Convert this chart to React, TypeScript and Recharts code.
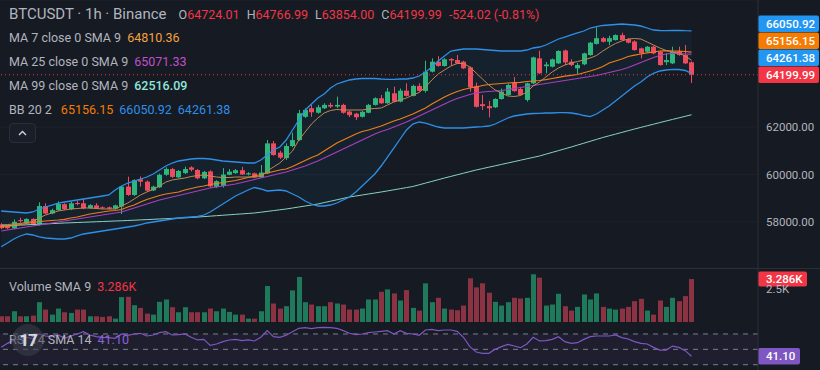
import React from 'react';
import {
  ComposedChart,
  Bar,
  Line,
  Area,
  XAxis,
  YAxis,
  CartesianGrid,
  ReferenceLine,
  ReferenceArea,
} from 'recharts';

// BTCUSDT 1h candles
const opens = [
  57900, 57800, 57730, 58080, 57960, 58130, 57870, 58670, 58360, 58500,
  58750, 58540, 58800, 58790, 58580, 58700, 58620, 58620, 58560, 58650,
  59490, 59140, 59800, 59700, 59330, 59460, 59990, 60230, 59880, 60060,
  60300, 60190, 59840, 60130, 59480, 59520, 59990, 60060, 60180, 60000,
  60050, 59880, 60050, 61310, 60920, 60690, 61200, 61450, 62430, 62790,
  62600, 62790, 62930, 62860, 62930, 62650, 62560, 62430, 62600, 62930,
  63210, 63000, 63420, 63070, 63530, 63310, 63730, 63520, 64330, 64750,
  64570, 64860, 64820, 64750, 64510, 63730, 62960, 62880, 62830, 63180,
  63350, 63850, 63600, 63140, 63840, 64890, 64560, 64540, 64680, 65220,
  64750, 64470, 64640, 65030, 65500, 65740, 65590, 65660, 65870, 65700,
  65600, 65310, 65170, 65380, 65170, 64730, 64680, 65170, 65030, 64724.01,
];
const highs = [
  57950, 57850, 58110, 58180, 58160, 58160, 58830, 58790, 58560, 58870,
  58790, 58860, 58900, 58960, 58750, 58790, 58660, 58650, 58730, 59520,
  59910, 59800, 59920, 59750, 59530, 60040, 60300, 60280, 60190, 60330,
  60350, 60230, 60150, 60180, 59760, 60270, 60230, 60230, 60320, 60100,
  60080, 60400, 61450, 61410, 61000, 61310, 61760, 62720, 62790, 62930,
  62930, 63000, 63020, 63280, 62980, 62700, 62600, 62680, 62970, 63250,
  63350, 63640, 63700, 63620, 63840, 63780, 63840, 64790, 64890, 64980,
  64900, 64900, 65030, 64790, 64550, 63870, 63350, 63100, 63210, 63620,
  63830, 64100, 63650, 63870, 64960, 65210, 64740, 64880, 65230, 65260,
  64850, 64700, 65130, 65580, 66190, 65790, 65840, 65900, 65970, 65730,
  65650, 65340, 65410, 65420, 65200, 65100, 65380, 65380, 65450, 64766.99,
];
const lows = [
  57700, 57690, 57700, 57970, 57940, 57850, 57850, 58330, 58330, 58480,
  58500, 58500, 58700, 58540, 58560, 58560, 58540, 58530, 58530, 58340,
  59100, 59100, 59490, 59280, 59300, 59440, 59950, 59860, 59850, 60020,
  60130, 59800, 59810, 59460, 59430, 59450, 59970, 60030, 59980, 59960,
  59850, 59860, 60020, 60790, 60650, 60610, 61150, 61420, 62380, 62430,
  62560, 62760, 62800, 62800, 62560, 62420, 62295, 62400, 62580, 62900,
  62970, 62980, 63040, 63040, 63280, 63290, 63490, 63450, 64300, 64540,
  64540, 64580, 64650, 64440, 63490, 62820, 62720, 62410, 62800, 63150,
  63320, 63480, 63330, 63070, 63800, 64230, 64260, 64510, 64650, 64600,
  64560, 64190, 64600, 65000, 65470, 65560, 65440, 65640, 65630, 65520,
  65210, 64890, 65140, 65060, 64580, 64610, 64650, 65000, 64650, 63854,
];
const closes = [
  57740, 57740, 58010, 58040, 58130, 57870, 58670, 58360, 58500, 58760,
  58540, 58790, 58780, 58580, 58710, 58580, 58580, 58560, 58700, 59490,
  59140, 59770, 59700, 59320, 59490, 59990, 60230, 59900, 60150, 60230,
  60200, 59840, 60110, 59500, 59720, 60000, 60120, 60180, 60000, 60050,
  59880, 60080, 61310, 60820, 60710, 61200, 61450, 62580, 62720, 62620,
  62830, 62930, 62860, 62930, 62600, 62500, 62410, 62640, 62930, 63210,
  63000, 63490, 63070, 63530, 63310, 63730, 63520, 64330, 64750, 64570,
  64850, 64800, 64680, 64470, 63670, 62850, 62880, 62790, 63180, 63490,
  63770, 63510, 63350, 63840, 64930, 64260, 64630, 64850, 65200, 64720,
  64610, 64610, 65100, 65550, 65740, 65590, 65740, 65870, 65660, 65550,
  65240, 65100, 65380, 65100, 64610, 64820, 65170, 65030, 64680, 64199.99,
];
const volumes = [
  437, 437, 822, 437, 437, 488, 1516, 951, 565, 1028,
  745, 694, 951, 951, 437, 437, 385, 437, 257, 1902,
  1928, 1285, 1079, 643, 565, 1542, 1722, 1131, 745, 1131,
  745, 745, 745, 1028, 822, 1028, 771, 565, 565, 257,
  257, 822, 2750, 1414, 1028, 1208, 2416, 3444, 1516, 1336,
  1208, 1208, 1516, 1414, 1336, 951, 951, 1028, 1722, 1722,
  2313, 2493, 2185, 1645, 2442, 1080, 874, 2956, 1516, 1850,
  1028, 951, 900, 1259, 3341, 2647, 2956, 2236, 1542, 1259,
  1516, 1850, 1799, 1850, 3649, 3392, 1259, 1336, 2159, 1208,
  874, 1157, 2107, 1722, 2185, 1157, 1028, 951, 1028, 1157,
  1593, 1773, 874, 565, 1645, 1157, 1850, 1593, 1979, 3286,
];
const rsi = [
  52.6, 57.8, 62.2, 63, 65.7, 63.9, 70, 67.4, 66.5, 68.7,
  64.3, 67.4, 70, 73, 68.7, 66.5, 65.7, 65.2, 64.3, 70,
  68.3, 70, 70.9, 67.4, 68.7, 71.7, 73, 68.7, 69.1, 70,
  65.7, 62.2, 63, 55.2, 57, 60, 62.2, 63, 61.3, 62.2,
  60.9, 65.7, 74.3, 66.5, 65.7, 68.3, 73, 77.4, 78.3, 77,
  78.3, 78.7, 78.3, 77.4, 74.3, 70.9, 69.1, 70, 71.7, 72.6,
  73.5, 74.3, 70, 74.3, 70.9, 70, 68.3, 75.2, 76.1, 74.3,
  75.2, 75.2, 73.5, 65.7, 53.5, 46.5, 44.8, 44.8, 50, 53.5,
  56.5, 54.3, 52.2, 57, 65.7, 60.9, 61.3, 63, 66.5, 60,
  57.8, 58.7, 63, 66.5, 67.4, 67.4, 67.4, 68.7, 65.2, 63.5,
  60, 57.8, 57, 52.6, 49.1, 49.1, 54.3, 52.6, 48.3, 41.1,
];
const ma7 = [
  57874, 57895, 57916, 57937, 57980, 58022, 58169, 58295, 58380, 58464,
  58506, 58548, 58569, 58590, 58590, 58569, 58548, 58548, 58548, 58674,
  58800, 58969, 59137, 59264, 59369, 59516, 59684, 59769, 59811, 59853,
  59916, 59958, 59979, 59937, 59895, 59874, 59874, 59895, 59895, 59895,
  59895, 59916, 60147, 60316, 60484, 60737, 60990, 61453, 61790, 62126,
  62379, 62590, 62695, 62737, 62716, 62716, 62716, 62716, 62758, 62779,
  62800, 62926, 63053, 63137, 63221, 63347, 63453, 63684, 63979, 64232,
  64400, 64568, 64674, 64674, 64526, 64274, 64021, 63769, 63558, 63432,
  63305, 63284, 63326, 63474, 63726, 63895, 64105, 64316, 64484, 64610,
  64695, 64758, 64821, 64905, 65011, 65200, 65368, 65516, 65621, 65705,
  65726, 65705, 65579, 65452, 65326, 65221, 65158, 65116, 64989, 64810.36,
];
const ma25 = [
  57622, 57664, 57706, 57748, 57790, 57832, 57874, 57916, 57959, 58001,
  58043, 58085, 58127, 58169, 58211, 58253, 58295, 58337, 58380, 58422,
  58506, 58590, 58674, 58758, 58843, 58927, 58990, 59053, 59116, 59179,
  59242, 59306, 59369, 59432, 59474, 59516, 59558, 59600, 59663, 59726,
  59790, 59853, 59916, 59979, 60042, 60105, 60190, 60274, 60358, 60463,
  60569, 60695, 60821, 60947, 61074, 61200, 61326, 61453, 61579, 61705,
  61811, 61895, 62000, 62105, 62211, 62337, 62463, 62590, 62716, 62842,
  62968, 63095, 63200, 63284, 63369, 63432, 63474, 63495, 63516, 63537,
  63579, 63621, 63663, 63705, 63748, 63790, 63832, 63874, 63916, 63958,
  64000, 64042, 64084, 64126, 64168, 64232, 64295, 64358, 64421, 64505,
  64610, 64716, 64821, 64926, 65011, 65074, 65103, 65095, 65074, 65071.33,
];
const ma99 = [
  57832, 57845, 57857, 57870, 57882, 57895, 57908, 57920, 57933, 57945,
  57958, 57969, 57979, 57990, 58000, 58011, 58022, 58032, 58043, 58053,
  58064, 58076, 58089, 58101, 58114, 58127, 58139, 58152, 58164, 58177,
  58190, 58209, 58228, 58247, 58266, 58285, 58304, 58323, 58342, 58361,
  58380, 58413, 58447, 58481, 58514, 58548, 58590, 58632, 58674, 58716,
  58758, 58817, 58876, 58935, 58994, 59053, 59095, 59137, 59180, 59222,
  59264, 59310, 59356, 59402, 59449, 59495, 59567, 59638, 59710, 59781,
  59853, 59920, 59988, 60055, 60123, 60190, 60249, 60308, 60366, 60425,
  60484, 60543, 60602, 60661, 60720, 60779, 60855, 60931, 61006, 61082,
  61158, 61238, 61318, 61398, 61478, 61558, 61630, 61701, 61773, 61844,
  61916, 61983, 62051, 62118, 62186, 62253, 62319, 62384, 62450, 62516.09,
];
const bbUpper = [
  58464, 58443, 58422, 58401, 58380, 58422, 58548, 58632, 58716, 58800,
  58843, 58885, 58927, 58969, 59011, 59053, 59095, 59137, 59348, 59516,
  59642, 59726, 59811, 59895, 60021, 60190, 60358, 60484, 60569, 60611,
  60653, 60674, 60674, 60653, 60611, 60569, 60548, 60526, 60505, 60484,
  60484, 60611, 60821, 61032, 61158, 61453, 61874, 62295, 62716, 62968,
  63221, 63390, 63642, 63811, 63895, 63979, 64021, 64042, 64051, 64042,
  64021, 64009, 64009, 64021, 64021, 64063, 64147, 64316, 64526, 64779,
  64989, 65200, 65242, 65284, 65284, 65284, 65263, 65242, 65221, 65200,
  65200, 65200, 65200, 65242, 65326, 65368, 65452, 65579, 65705, 65789,
  65874, 65958, 66042, 66168, 66223, 66274, 66295, 66316, 66337, 66316,
  66295, 66252, 66168, 66084, 66063, 66054, 66063, 66063, 66054, 66050.92,
];
const bbBasis = [
  57790, 57820, 57853, 57895, 57937, 57980, 58022, 58043, 58064, 58085,
  58114, 58169, 58211, 58274, 58337, 58380, 58422, 58464, 58485, 58527,
  58632, 58716, 58843, 58948, 59032, 59116, 59179, 59221, 59264, 59348,
  59411, 59474, 59516, 59579, 59621, 59663, 59705, 59748, 59811, 59874,
  59937, 60000, 60063, 60126, 60190, 60232, 60337, 60463, 60590, 60716,
  60821, 60990, 61158, 61326, 61453, 61579, 61705, 61811, 61874, 61958,
  62042, 62147, 62253, 62337, 62442, 62548, 62674, 62800, 62968, 63116,
  63263, 63390, 63495, 63579, 63642, 63684, 63748, 63790, 63811, 63832,
  63853, 63865, 63882, 63916, 63937, 63958, 63992, 64042, 64093, 64139,
  64177, 64211, 64286, 64358, 64442, 64547, 64695, 64779, 64863, 64968,
  65023, 65074, 65124, 65158, 65200, 65212, 65200, 65191, 65179, 65156.15,
];
const bbLower = [
  56961, 57117, 57285, 57412, 57496, 57454, 57370, 57327, 57306, 57285,
  57285, 57327, 57412, 57496, 57538, 57580, 57622, 57664, 57706, 57748,
  57790, 57832, 57895, 57959, 58001, 58043, 58085, 58127, 58169, 58190,
  58211, 58232, 58295, 58422, 58590, 58758, 58927, 59095, 59221, 59348,
  59453, 59390, 59306, 59327, 59348, 59306, 59179, 59053, 58885, 58758,
  58674, 58674, 58716, 58800, 58927, 59053, 59264, 59516, 59769, 60021,
  60358, 60737, 61116, 61495, 61874, 62126, 62211, 62168, 62084, 62000,
  61958, 61958, 61958, 61958, 61979, 62000, 62013, 62042, 62126, 62253,
  62379, 62463, 62505, 62548, 62569, 62577, 62590, 62590, 62602, 62602,
  62590, 62548, 62484, 62434, 62548, 62716, 62884, 63095, 63305, 63516,
  63726, 63895, 64105, 64261, 64358, 64400, 64429, 64421, 64379, 64261.38,
];

// empty slots to the right of the last candle
const EMPTY_SLOTS = 10;

const priceTicks = [58000, 60000, 62000];
const volumeTicks = [2500];
const rsiTicks = [80];
const rsiBands = [70, 50, 30];

const BG = '#161a23';
const UP = '#2db77d';
const DOWN = '#ef4b5e';
const VOL_UP = '#1e7a5b';
const VOL_DOWN = '#8b3343';
const TEXT = '#b2b5be';
const BORDER = '#2a2e39';
const FONT = 'Roboto, "Noto Sans", sans-serif';

const rows = Array.from({ length: closes.length + EMPTY_SLOTS }, (_, i) =>
  i < closes.length
    ? {
        t: i,
        open: opens[i],
        high: highs[i],
        low: lows[i],
        close: closes[i],
        vol: volumes[i],
        rsi: rsi[i],
        ma7: ma7[i],
        ma25: ma25[i],
        ma99: ma99[i],
        bbU: bbUpper[i],
        bbM: bbBasis[i],
        bbL: bbLower[i],
      }
    : { t: i }
);

const last = rows[closes.length - 1] as any;
const fmt = (v: number) => v.toFixed(2);

function Candle(props: any) {
  const { x, y, width, height, payload } = props;
  if (!payload || payload.high == null || !height) return null;
  const { open, close, high, low } = payload;
  const k = height / (high - low);
  const cx = Math.round(x + width / 2);
  const top = y + (high - Math.max(open, close)) * k;
  const bot = y + (high - Math.min(open, close)) * k;
  const color = close >= open ? UP : DOWN;
  return (
    <g>
      <line x1={cx + 0.5} x2={cx + 0.5} y1={y} y2={y + height} stroke={color} strokeWidth={1} />
      <rect x={cx - 2} y={top} width={5} height={Math.max(1, bot - top)} fill={color} />
    </g>
  );
}

function VolumeBar(props: any) {
  const { x, y, width, height, payload } = props;
  if (!payload || payload.vol == null) return null;
  const cx = Math.round(x + width / 2);
  return (
    <rect
      x={cx - 2}
      y={y}
      width={5}
      height={height}
      fill={payload.close >= payload.open ? VOL_UP : VOL_DOWN}
    />
  );
}

// boxes on the price scale, stacked upward from the last price
function Tags(props: any) {
  const { viewBox, tags, boxWidth, boxHeight } = props;
  if (!viewBox) return null;
  const x = viewBox.x + viewBox.width;
  return (
    <g>
      {tags.map((t: { text: string; color: string }, k: number) => {
        const cy = viewBox.y - (tags.length - 1 - k) * 17;
        return (
          <g key={t.text}>
            <rect x={x} y={cy - boxHeight / 2} width={boxWidth} height={boxHeight} rx={2} fill={t.color} />
            <text
              x={x + 8}
              y={cy}
              dy="0.36em"
              fill="#ffffff"
              fontSize={11.5}
              fontWeight={500}
              fontFamily={FONT}
            >
              {t.text}
            </text>
          </g>
        );
      })}
    </g>
  );
}

const axisTick = { fill: TEXT, fontSize: 11.5, fontFamily: FONT };

function Legend() {
  const row = (top: number, children: React.ReactNode) => (
    <div
      style={{
        position: 'absolute',
        left: 9,
        top,
        height: 20,
        lineHeight: '20px',
        display: 'flex',
        gap: 6,
        whiteSpace: 'nowrap',
        fontSize: 12.5,
        color: TEXT,
      }}
    >
      {children}
    </div>
  );
  const red = '#f23645';
  return (
    <div style={{ position: 'absolute', inset: 0, fontFamily: FONT, pointerEvents: 'none' }}>
      <div
        style={{
          position: 'absolute',
          left: 9,
          top: 3,
          height: 22,
          lineHeight: '22px',
          whiteSpace: 'nowrap',
          display: 'flex',
          alignItems: 'baseline',
          color: TEXT,
        }}
      >
        <span style={{ fontSize: 15, marginRight: 12 }}>BTCUSDT · 1h · Binance</span>
        <span style={{ fontSize: 12.5 }}>
          O<span style={{ color: red, marginRight: 7 }}>{fmt(last.open)}</span>
          H<span style={{ color: red, marginRight: 7 }}>{fmt(last.high)}</span>
          L<span style={{ color: red, marginRight: 7 }}>{fmt(last.low)}</span>
          C<span style={{ color: red, marginRight: 7 }}>{fmt(last.close)}</span>
          <span style={{ color: red }}>-524.02 (-0.81%)</span>
        </span>
      </div>
      {row(
        28,
        <>
          <span>MA 7 close 0 SMA 9</span>
          <span style={{ color: '#f5a142' }}>{fmt(last.ma7)}</span>
        </>
      )}
      {row(
        52,
        <>
          <span>MA 25 close 0 SMA 9</span>
          <span style={{ color: '#c24fcb' }}>{fmt(last.ma25)}</span>
        </>
      )}
      {row(
        76,
        <>
          <span>MA 99 close 0 SMA 9</span>
          <span style={{ color: '#8fe6dc', fontWeight: 500 }}>{fmt(last.ma99)}</span>
        </>
      )}
      {row(
        100,
        <>
          <span style={{ marginRight: 3 }}>BB 20 2</span>
          <span style={{ color: '#f57c00' }}>{fmt(last.bbM)}</span>
          <span style={{ color: '#2e8fe6' }}>{fmt(last.bbU)}</span>
          <span style={{ color: '#2e8fe6' }}>{fmt(last.bbL)}</span>
        </>
      )}
      <div
        style={{
          position: 'absolute',
          left: 9,
          top: 123,
          width: 27,
          height: 20,
          boxSizing: 'border-box',
          border: `1px solid ${BORDER}`,
          borderRadius: 4,
          background: '#1a1e28',
        }}
      >
        <svg width={25} height={18} style={{ display: 'block' }}>
          <polyline points="9,11 12.5,7.5 16,11" fill="none" stroke="#d1d4dc" strokeWidth={1.4} />
        </svg>
      </div>
      {row(
        277,
        <>
          <span>Volume SMA 9</span>
          <span style={{ color: red }}>3.286K</span>
        </>
      )}
      {row(
        330,
        <>
          <span>RSI 14 SMA 14</span>
          <span style={{ color: '#8b63d6' }}>{last.rsi.toFixed(2)}</span>
        </>
      )}
      <div
        style={{
          position: 'absolute',
          left: 12,
          top: 324,
          width: 32,
          height: 32,
          borderRadius: '50%',
          background: 'rgba(60,64,76,0.55)',
          color: 'rgba(235,238,245,0.9)',
          fontWeight: 700,
          fontSize: 17,
          lineHeight: '32px',
          textAlign: 'center',
          letterSpacing: -1,
        }}
      >
        17
      </div>
    </div>
  );
}

export default function App() {
  return (
    <div style={{ position: 'fixed', left: 0, top: 0, width: 820, height: 370, background: BG, overflow: 'hidden' }}>
      {/* price pane */}
      <div style={{ position: 'absolute', left: -2, top: 0 }}>
        <ComposedChart width={822} height={268} data={rows} margin={{ top: 0, right: 0, bottom: 0, left: 0 }}>
          <CartesianGrid stroke="#1c2029" vertical={false} />
          <XAxis dataKey="t" type="category" scale="band" hide />
          <YAxis
            orientation="right"
            width={62}
            domain={[56064, 67347]}
            allowDataOverflow
            ticks={priceTicks}
            tickFormatter={fmt}
            tick={axisTick}
            tickLine={false}
            axisLine={{ stroke: BORDER }}
          />
          <Area
            dataKey={(d: any) => (d.bbL == null ? null : [d.bbL, d.bbU])}
            fill="#2196f3"
            fillOpacity={0.06}
            stroke="none"
            dot={false}
            activeDot={false}
            isAnimationActive={false}
          />
          <Line dataKey="ma99" stroke="#86d3c0" strokeWidth={1} dot={false} activeDot={false} isAnimationActive={false} />
          <Line dataKey="bbU" stroke="#2e8fe6" strokeWidth={1.3} dot={false} activeDot={false} isAnimationActive={false} />
          <Line dataKey="bbL" stroke="#2e8fe6" strokeWidth={1.3} dot={false} activeDot={false} isAnimationActive={false} />
          <Line dataKey="ma25" stroke="#a83fbd" strokeWidth={1.2} dot={false} activeDot={false} isAnimationActive={false} />
          <Line dataKey="bbM" stroke="#f07d1a" strokeWidth={1.2} dot={false} activeDot={false} isAnimationActive={false} />
          <Line dataKey="ma7" stroke="#c08a4e" strokeWidth={1} dot={false} activeDot={false} isAnimationActive={false} />
          <Bar
            dataKey={(d: any) => (d.low == null ? null : [d.low, d.high])}
            shape={<Candle />}
            isAnimationActive={false}
          />
          <ReferenceLine
            y={last.close}
            stroke="#f23645"
            strokeDasharray="1 3"
            label={
              <Tags
                boxWidth={61}
                boxHeight={16.5}
                tags={[
                  { text: fmt(last.bbU), color: '#2196f3' },
                  { text: fmt(last.bbM), color: '#f57c00' },
                  { text: fmt(last.bbL), color: '#2196f3' },
                  { text: fmt(last.close), color: '#f23645' },
                ]}
              />
            }
          />
        </ComposedChart>
      </div>

      {/* volume pane */}
      <div style={{ position: 'absolute', left: -2, top: 268, borderTop: `1px solid ${BORDER}`, width: 822 }} />
      <div style={{ position: 'absolute', left: -2, top: 268 }}>
        <ComposedChart width={822} height={54} data={rows} margin={{ top: 0, right: 0, bottom: 0, left: 0 }}>
          <XAxis dataKey="t" type="category" scale="band" hide />
          <YAxis
            orientation="right"
            width={62}
            domain={[0, 4130]}
            allowDataOverflow
            ticks={volumeTicks}
            tickFormatter={(v: number) => `${v / 1000}K`}
            tick={axisTick}
            tickLine={false}
            axisLine={{ stroke: BORDER }}
          />
          <Bar dataKey="vol" shape={<VolumeBar />} isAnimationActive={false} />
          <ReferenceLine
            y={last.vol}
            stroke="none"
            label={<Tags boxWidth={49} boxHeight={15} tags={[{ text: '3.286K', color: '#f23645' }]} />}
          />
        </ComposedChart>
      </div>

      {/* RSI pane */}
      <div style={{ position: 'absolute', left: -2, top: 322 }}>
        <ComposedChart width={822} height={48} data={rows} margin={{ top: 0, right: 0, bottom: 0, left: 0 }}>
          <XAxis dataKey="t" type="category" scale="band" hide />
          <YAxis
            orientation="right"
            width={62}
            domain={[23.1, 85.6]}
            allowDataOverflow
            ticks={rsiTicks}
            tickFormatter={fmt}
            tick={axisTick}
            tickLine={false}
            axisLine={{ stroke: BORDER }}
          />
          <ReferenceArea y1={30} y2={70} fill="#7e57c2" fillOpacity={0.08} stroke="none" />
          {rsiBands.map((b) => (
            <ReferenceLine key={b} y={b} stroke="#7d808a" strokeDasharray="5 5" />
          ))}
          <Line dataKey="rsi" stroke="#7e57c2" strokeWidth={1.2} dot={false} activeDot={false} isAnimationActive={false} />
          <ReferenceLine
            y={last.rsi}
            stroke="none"
            label={<Tags boxWidth={42} boxHeight={16.5} tags={[{ text: fmt(last.rsi), color: '#7e57c2' }]} />}
          />
        </ComposedChart>
      </div>

      <Legend />
    </div>
  );
}
